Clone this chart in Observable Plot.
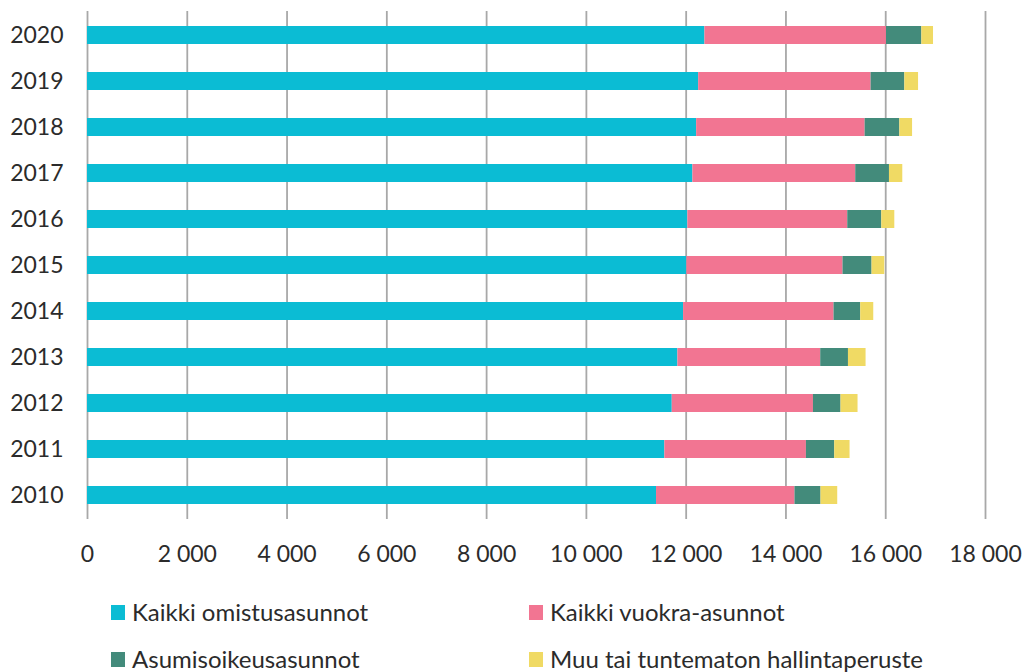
<!DOCTYPE html>
<html>
<head>
<meta charset="utf-8">
<script src="https://cdn.jsdelivr.net/npm/d3@7"></script>
<script src="https://cdn.jsdelivr.net/npm/@observablehq/plot@0.6"></script>
<style>
  html, body { margin: 0; padding: 0; background: #fff; }
  #wrap { position: relative; width: 1028px; height: 672px; overflow: hidden; font-family: Lato, "Open Sans", sans-serif; color: #2b2b2b; }
  .leg { position: absolute; display: flex; align-items: center; font-size: 24px; white-space: nowrap; line-height: 28px; }
  .sw { width: 14px; height: 15px; margin-right: 7px; }
</style>
</head>
<body>
<div id="wrap"></div>
<script>
const years = ["2010","2011","2012","2013","2014","2015","2016","2017","2018","2019","2020"];
const seriesNames = ["Kaikki omistusasunnot","Kaikki vuokra-asunnot","Asumisoikeusasunnot","Muu tai tuntematon hallintaperuste"];
const colors = ["#0bbcd4","#f27592","#438b7b","#f0da64"];
const omistus = [11406, 11573, 11721, 11834, 11948, 12014, 12034, 12135, 12210, 12250, 12376];
const vuokra  = [2775, 2837, 2830, 2863, 3016, 3130, 3205, 3264, 3377, 3457, 3639];
const asumis  = [522, 568, 553, 556, 535, 582, 682, 676, 696, 676, 709];
const muu     = [335, 307, 341, 353, 261, 255, 261, 267, 255, 275, 234];
const xTicks = [0,2000,4000,6000,8000,10000,12000,14000,16000,18000];

const seriesValues = [omistus, vuokra, asumis, muu];
const table = [];
seriesNames.forEach((s, si) => {
  years.forEach((y, i) => table.push({year: y, series: s, value: seriesValues[si][i]}));
});

const fmt = v => d3.format(",")(v).replace(/,/g, "\u00a0");

const chart = Plot.plot({
  width: 1028,
  height: 585,
  marginLeft: 87,
  marginRight: 43,
  marginTop: 11,
  marginBottom: 66,
  style: {fontFamily: "Lato, 'Open Sans', sans-serif", fontSize: "23px", color: "#2b2b2b", background: "#fff"},
  x: {domain: [0, 18000], ticks: xTicks, tickFormat: fmt, tickSize: 0, tickPadding: 26, label: null},
  y: {domain: years.slice().reverse(), paddingInner: 0.61, paddingOuter: 0.305, tickSize: 0, tickPadding: 24, label: null},
  color: {domain: seriesNames, range: colors},
  marks: [
    Plot.ruleX(xTicks, {stroke: "#a8a8a8", strokeWidth: 1.8}),
    Plot.barX(table, Plot.stackX({y: "year", x: "value", fill: "series", order: seriesNames})),
    Plot.axisX({ticks: xTicks, tickFormat: fmt, tickSize: 0, tickPadding: 26, label: null}),
    Plot.axisY({tickSize: 0, tickPadding: 24, label: null})
  ]
});
const wrap = document.getElementById("wrap");
wrap.appendChild(chart);

const legendPos = [[111, 612], [529, 612], [111, 659], [529, 659]];
seriesNames.forEach((s, i) => {
  const d = document.createElement("div");
  d.className = "leg";
  d.style.left = legendPos[i][0] + "px";
  d.style.top = (legendPos[i][1] - 14) + "px";
  d.style.height = "28px";
  d.innerHTML = `<span class="sw" style="background:${colors[i]}"></span><span>${s}</span>`;
  wrap.appendChild(d);
});
</script>
</body>
</html>
